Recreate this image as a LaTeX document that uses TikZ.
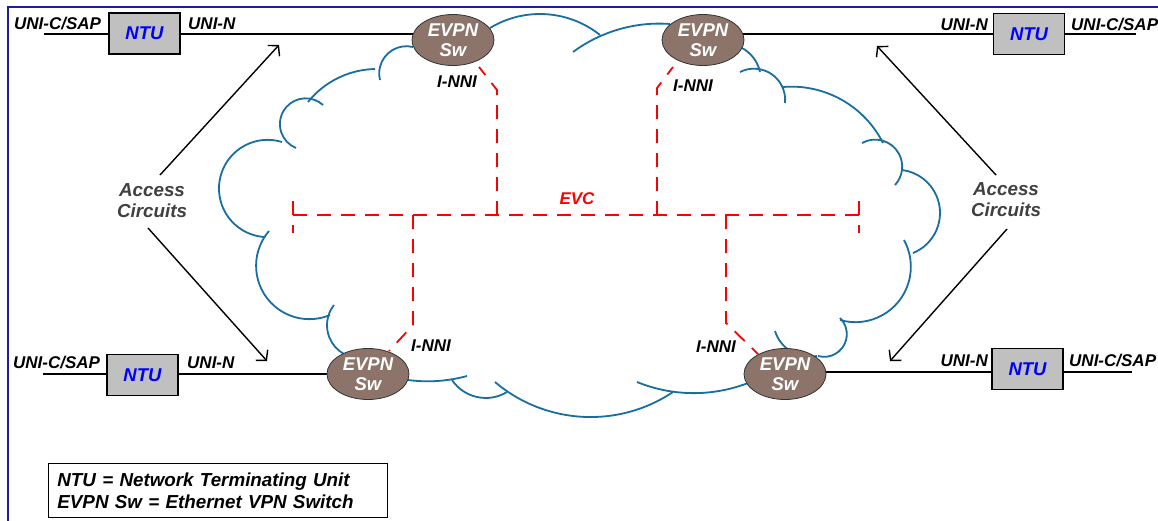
\documentclass[tikz,border=0pt]{standalone}
\usepackage{fontspec}
\setmainfont{Liberation Sans}
\usetikzlibrary{arrows.meta,shapes.geometric,backgrounds}
\definecolor{frameblue}{RGB}{30,30,150}
\definecolor{cloudblue}{RGB}{25,110,160}
\definecolor{swfill}{RGB}{140,116,106}
\definecolor{ntufill}{RGB}{192,192,192}
\definecolor{acgray}{RGB}{64,64,64}
\newcommand\myfs[2]{\fontsize{#1}{#2}\selectfont\bfseries\itshape}
% circular arc through three points (pixel coordinates)
\newcommand\lobe[6]{%
  \edef\lbx{\fpeval{(#3)-(#1)}}%
  \edef\lby{\fpeval{(#4)-(#2)}}%
  \edef\lcx{\fpeval{(#5)-(#1)}}%
  \edef\lcy{\fpeval{(#6)-(#2)}}%
  \edef\ld{\fpeval{2*((\lbx)*(\lcy)-(\lby)*(\lcx))}}%
  \edef\lB{\fpeval{(\lbx)*(\lbx)+(\lby)*(\lby)}}%
  \edef\lC{\fpeval{(\lcx)*(\lcx)+(\lcy)*(\lcy)}}%
  \edef\lux{\fpeval{((\lcy)*(\lB)-(\lby)*(\lC))/(\ld)}}%
  \edef\luy{\fpeval{((\lbx)*(\lC)-(\lcx)*(\lB))/(\ld)}}%
  \edef\lr{\fpeval{round(sqrt((\lux)*(\lux)+(\luy)*(\luy)),3)}}%
  \edef\la{\fpeval{atand(-(\luy),-(\lux))}}%
  \edef\lc{\fpeval{atand((\lcy)-(\luy),(\lcx)-(\lux))}}%
  \edef\le{\fpeval{(\ld)>0 ? (\la)+((\lc)-(\la)-360*floor(((\lc)-(\la))/360)) : (\la)-((\la)-(\lc)-360*floor(((\la)-(\lc))/360))}}%
  \edef\laR{\fpeval{round(\la,3)}}%
  \edef\leR{\fpeval{round(\le,3)}}%
  \draw (#1,#2) arc[start angle=\laR, end angle=\leR, radius=\lr];%
}
\begin{document}
\begin{tikzpicture}[x=1pt,y=-1pt,
  ntubox/.style={draw=black, line width=1.5pt, fill=ntufill, minimum width=71pt, minimum height=41pt, inner sep=0pt, text=blue, font=\myfs{18.5}{20}},
  sw/.style={ellipse, draw=black!80, line width=0.8pt, fill=swfill, minimum width=82pt, minimum height=51pt, inner sep=0pt, text=white, align=center, font=\myfs{18.5}{20}},
  lab/.style={font=\myfs{17}{19}, inner sep=0pt},
  acc/.style={font=\myfs{18.8}{21}, text=acgray, align=center, inner sep=0pt},
  evclab/.style={font=\myfs{17}{19}, text=red, inner sep=0pt},
  legend/.style={draw=black, line width=0.8pt, fill=white, font=\myfs{18.8}{22}, align=left, text width=321pt, inner xsep=9pt, inner ysep=9pt},
  wire/.style={line width=1.6pt},
  arr/.style={line width=1.4pt, -{Straight Barb[length=7pt,width=16pt]}},
  evc/.style={red, line width=1.8pt, dash pattern=on 14pt off 10pt},
  cloud/.style={cloudblue, line width=1.8pt}
]
\useasboundingbox (0,0) rectangle (1158,520);
\clip (0,0) rectangle (1158,520);

% nodes
\node[ntubox] (ntu1) at (144.5,33.5) {NTU};
\node[ntubox] (ntu2) at (1029,34) {NTU};
\node[ntubox] (ntu3) at (142.5,375) {NTU};
\node[ntubox] (ntu4) at (1027.5,369) {NTU};
\node[sw] (sw1) at (453,40) {EVPN\\Sw};
\node[sw] (sw2) at (703,40) {EVPN\\Sw};
\node[sw] (sw3) at (368,374) {EVPN\\Sw};
\node[sw] (sw4) at (785,374) {EVPN\\Sw};

% labels
\node[lab, anchor=base west] (u1) at (14,29) {UNI-C/SAP};
\node[lab, anchor=base west] (u2) at (188,29) {UNI-N};
\node[lab, anchor=base east] (u3) at (988,30) {UNI-N};
\node[lab, anchor=base west] (u4) at (1071,30) {UNI-C/SAP};
\node[lab, anchor=base west] (u5) at (13,368) {UNI-C/SAP};
\node[lab, anchor=base west] (u6) at (187,368) {UNI-N};
\node[lab, anchor=base east] (u7) at (988,366) {UNI-N};
\node[lab, anchor=base west] (u8) at (1069,366) {UNI-C/SAP};

\node[lab] (i1) at (457,82) {I-NNI};
\node[lab] (i2) at (693,85.5) {I-NNI};
\node[lab] (i3) at (431,346) {I-NNI};
\node[lab] (i4) at (716,347) {I-NNI};
\node[evclab] (evc) at (577,199) {EVC};

\node[acc] (acL) at (152,201) {Access\\Circuits};
\node[acc] (acR) at (1006,200) {Access\\Circuits};

\node[legend, anchor=north west] (leg) at (48,463) {NTU = Network Terminating Unit\\EVPN Sw = Ethernet VPN Switch};

% coordinates
\coordinate (e1) at (44,34);
\coordinate (e2) at (1136,34);
\coordinate (e3) at (43,374);
\coordinate (e4) at (1132,372);
\coordinate (a1s) at (160,175); \coordinate (a1t) at (279,45);
\coordinate (a2s) at (148,228); \coordinate (a2t) at (267,361);
\coordinate (a3s) at (996,175); \coordinate (a3t) at (877,46);
\coordinate (a4s) at (1007,229); \coordinate (a4t) at (890,361);

\draw[arr] (a1s) -- (a1t);
\draw[arr] (a2s) -- (a2t);
\draw[arr] (a3s) -- (a3t);
\draw[arr] (a4s) -- (a4t);

% EVC
\coordinate (hL) at (293,215); \coordinate (hR) at (859,215);
\coordinate (tL1) at (293,201); \coordinate (tL2) at (293,233);
\coordinate (tR1) at (859,201); \coordinate (tR2) at (859,233);
\coordinate (j1) at (497,215); \coordinate (k1) at (497,90); \coordinate (n1) at (479,67);
\coordinate (j2) at (657,215); \coordinate (k2) at (657,88); \coordinate (n2) at (673,67);
\coordinate (j3) at (413,215); \coordinate (k3) at (413,325); \coordinate (n3) at (389,351);
\coordinate (j4) at (726,215); \coordinate (k4) at (726,323); \coordinate (n4) at (758,354);
\draw[evc] (hL) -- (hR);
\draw[evc] (tL1) -- (tL2);
\draw[evc] (tR1) -- (tR2);
\draw[evc] (j1) -- (k1) -- (n1);
\draw[evc] (j2) -- (k2) -- (n2);
\draw[evc] (j3) -- (k3) -- (n3);
\draw[evc] (j4) -- (k4) -- (n4);

\begin{scope}[on background layer]
\fill[white] (0,0) rectangle (1158,520);
\draw[frameblue, line width=1.2pt] (8,522) -- (8,7) -- (1160,7);
\draw[wire] (e1) -- (sw1.center |- e1);
\draw[wire] (sw2.center |- e2) -- (e2);
\draw[wire] (e3) -- (sw3.center |- e3);
\draw[wire] (sw4.center |- e4) -- (e4);
% cloud
\begin{scope}[cloud]
\lobe{413}{47}{384}{58}{380}{80}
\lobe{375}{69}{336}{79}{308}{102}
\lobe{323}{105}{280}{122}{296}{148}
\lobe{282}{142}{219}{190}{264}{237}
\lobe{269}{231}{258}{280}{330}{315}
\lobe{334}{305}{327}{325}{344}{354}
\lobe{408}{380}{437}{381}{467}{376}
\lobe{452}{380}{477}{397}{507}{392}
\lobe{495}{382}{587}{417}{673}{392}
\lobe{637}{382}{700}{393}{748}{383}
\lobe{775}{331}{792}{352}{817}{356}
\lobe{818}{356}{845}{343}{840}{318}
\lobe{840}{320}{907}{287}{904}{240}
\lobe{913}{253}{940}{213}{902}{170}
\lobe{862}{143}{900}{156}{895}{185}
\lobe{783}{87}{850}{105}{883}{143}
\lobe{740}{72}{778}{80}{785}{103}
\lobe{742}{48}{755}{60}{760}{72}
\lobe{670}{24}{620}{29}{573}{52}
\lobe{490}{28}{540}{14}{600}{35}
\end{scope}
\end{scope}
\end{tikzpicture}
\end{document}
